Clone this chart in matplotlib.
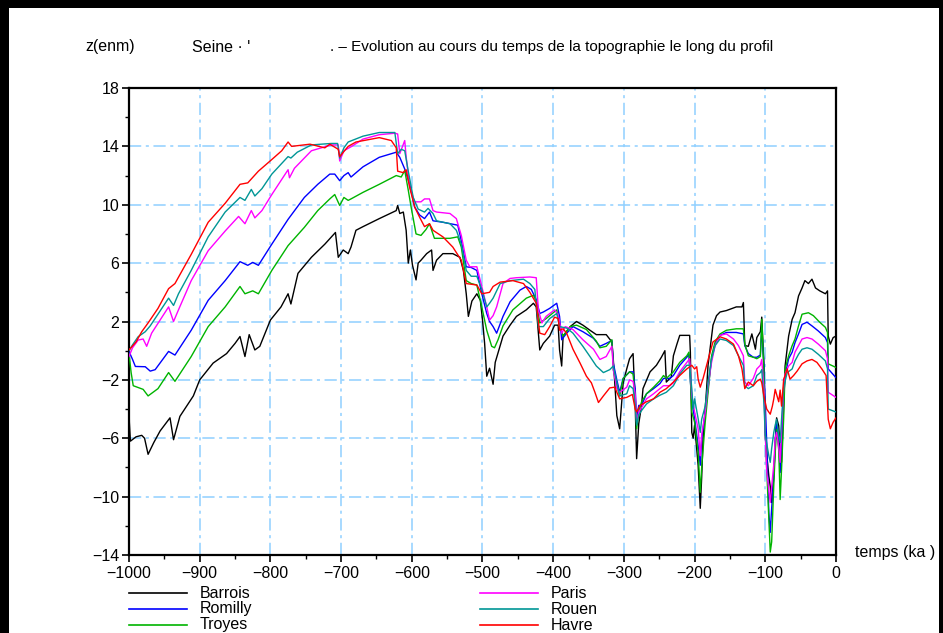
import matplotlib
matplotlib.use("Agg")
import matplotlib.pyplot as plt
from matplotlib.lines import Line2D
from matplotlib.patches import Rectangle
from matplotlib.ticker import MultipleLocator

plt.rcParams['font.family'] = ['Liberation Sans', 'DejaVu Sans']

# ---------------- data (time in ka, elevation z in m) ----------------
t_barrois = [-1000, -999.5, -998, -990, -982, -978, -973, -965, -956, -942, -937, -928, -909, -900, -881, -862,
             -850, -843, -836, -830, -822, -815, -800, -785, -775, -771, -761, -742, -723, -708, -704, -697,
             -690, -686, -679, -669, -646, -622, -620, -617, -612, -608, -605, -602, -599, -594, -591, -587,
             -579, -572, -570, -565, -556, -542, -532, -527, -523, -520, -515, -508, -503, -500, -497, -494,
             -490, -485, -482, -478, -471, -461, -452, -438, -428, -424, -419, -414, -405, -398, -393, -391,
             -388, -386, -376, -367, -358, -348, -339, -325, -317, -315, -310, -306, -301, -296, -292, -287,
             -284, -282, -279, -275, -273, -263, -254, -247, -242, -240, -233, -230, -225, -221, -207, -206,
             -204, -202, -200, -195, -192, -190, -188, -185, -183, -181, -174, -169, -164, -155, -141, -133,
             -131, -129, -124, -119, -114, -112, -107, -105, -102, -100, -98, -95, -93, -91, -88, -86,
             -84, -81, -79, -77, -74, -72, -67, -62, -58, -53, -48, -44, -39, -34, -29, -23,
             -15, -12, -11, -8, -4, 0]
z_barrois = [-3.0, -4.9, -6.2, -5.9, -5.8, -6.0, -7.1, -6.3, -5.5, -4.6, -6.1, -4.5, -3.1, -2.0, -0.85, -0.2,
             0.5, 0.97, -0.4, 1.1, 0.05, 0.3, 2.1, 3.0, 3.9, 3.2, 5.3, 6.4, 7.3, 8.1, 6.4, 6.9,
             6.65, 7.1, 8.25, 8.5, 9.05, 9.6, 9.95, 9.4, 9.5, 8.25, 6.0, 6.9, 5.85, 4.85, 6.0, 6.2,
             6.65, 6.9, 5.5, 6.2, 6.65, 6.65, 6.4, 5.5, 3.9, 2.35, 3.4, 3.9, 3.45, 2.1, 0.5, -1.75,
             -1.2, -2.3, -0.8, -0.15, 1.0, 1.75, 2.35, 2.8, 3.25, 3.0, 0.05, 0.5, 1.0, 1.75, 1.75, 0.05,
             -1.05, 1.0, 1.65, 2.0, 1.75, 1.4, 1.1, 1.1, 0.6, -0.6, -4.45, -5.35, -2.2, -1.25, -0.55, -0.2,
             -3.75, -7.4, -5.0, -3.75, -2.6, -1.45, -1.0, -0.45, 0.0, -2.15, -1.8, -0.35, 0.45, 1.05, 1.05, -0.1,
             -5.6, -6.0, -5.1, -7.85, -10.8, -8.7, -6.0, -4.0, -2.6, -1.0, 1.75, 2.4, 2.65, 2.75, 3.0, 3.0,
             3.3, 0.35, 0.3, 1.15, 0.1, 0.9, 1.3, 2.3, -0.9, -5.8, -7.1, -8.6, -9.3, -10.4, -8.6, -6.3,
             -4.6, -5.15, -7.0, -7.65, -3.8, -1.05, 1.0, 2.15, 2.6, 3.75, 4.3, 4.8, 4.6, 4.9, 4.3, 4.1,
             3.9, 4.1, 1.0, 0.45, 0.9, 1.0]

t_romilly = [-1000, -995, -991, -977, -970, -963, -944, -935, -912, -888, -864, -843, -832, -825, -817, -798,
             -775, -752, -733, -716, -709, -702, -696, -690, -686, -669, -646, -622, -617, -610, -603, -596,
             -589, -582, -575, -570, -556, -535, -530, -523, -516, -508, -501, -494, -490, -485, -480, -471,
             -461, -447, -438, -431, -424, -419, -414, -405, -395, -391, -388, -381, -372, -358, -343, -334,
             -325, -317, -315, -310, -306, -301, -292, -287, -284, -282, -279, -275, -268, -258, -249, -244,
             -235, -230, -221, -211, -208, -206, -203, -200, -195, -192, -190, -185, -181, -176, -171, -164,
             -155, -141, -131, -129, -124, -117, -112, -107, -105, -102, -98, -95, -93, -91, -88, -86,
             -84, -81, -79, -77, -74, -72, -67, -62, -58, -53, -48, -41, -34, -25, -15, -12,
             -11, 0]
z_romilly = [-0.05, -0.6, -1.08, -1.1, -1.4, -1.3, -0.05, -0.3, 1.4, 3.45, 4.8, 6.1, 5.85, 6.05, 5.85, 7.3,
             9.0, 10.5, 11.4, 12.1, 12.1, 11.65, 12.0, 12.2, 11.9, 12.6, 13.25, 13.6, 13.25, 12.45, 11.4, 9.85,
             9.3, 9.05, 9.5, 8.9, 8.8, 8.6, 7.55, 5.75, 5.7, 5.5, 3.9, 2.55, 2.0, 1.65, 1.2, 2.35,
             3.35, 4.15, 4.4, 4.2, 3.5, 2.55, 2.65, 2.9, 3.25, 2.35, 0.75, 1.2, 1.65, 1.3, 0.85, 0.3,
             0.5, 0.7, -0.85, -2.0, -2.85, -1.9, -1.45, -1.45, -2.6, -4.65, -3.75, -3.75, -2.95, -2.6, -2.25, -1.9,
             -1.9, -1.7, -1.0, -0.45, -0.25, -2.1, -3.75, -4.65, -6.5, -7.85, -6.0, -4.25, -2.6, -0.55, 0.45, 1.05,
             1.25, 1.25, 1.15, 0.35, -0.2, -0.45, -0.45, -0.3, 1.6, -1.0, -6.3, -11.1, -12.45, -10.8, -8.6, -6.3,
             -4.9, -6.3, -8.35, -6.7, -3.3, -1.7, -0.55, -0.1, 0.55, 1.15, 1.8, 1.95, 1.7, 1.35, 0.9, 0.55,
             -1.25, -1.85]

t_troyes = [-1000, -997, -994, -980, -973, -959, -944, -935, -912, -888, -864, -843, -836, -825, -817, -798,
            -775, -752, -733, -716, -709, -702, -696, -690, -686, -669, -646, -622, -615, -610, -605, -601,
            -594, -587, -580, -575, -568, -546, -535, -530, -523, -516, -508, -501, -494, -487, -483, -478,
            -471, -457, -438, -428, -424, -419, -410, -395, -391, -386, -376, -367, -353, -339, -334, -325,
            -317, -315, -310, -306, -301, -292, -287, -284, -282, -279, -275, -268, -258, -249, -244, -240,
            -230, -221, -211, -208, -206, -204, -200, -195, -192, -190, -185, -181, -176, -171, -164, -155,
            -141, -131, -129, -124, -117, -112, -107, -105, -102, -100, -98, -93, -91, -88, -86, -84,
            -81, -79, -77, -74, -72, -67, -62, -58, -53, -48, -39, -32, -23, -15, -12, -11,
            0]
z_troyes = [-0.2, -1.5, -2.4, -2.65, -3.1, -2.6, -1.5, -2.1, -0.4, 1.65, 3.0, 4.4, 3.9, 4.1, 3.9, 5.5,
            7.2, 8.45, 9.6, 10.4, 10.7, 9.95, 10.5, 10.3, 10.4, 10.85, 11.4, 12.0, 11.9, 12.35, 11.0, 9.85,
            8.0, 7.9, 8.3, 8.7, 7.7, 7.7, 7.8, 7.1, 4.8, 4.6, 4.5, 3.0, 1.4, 0.3, 0.2, 0.75,
            1.7, 2.8, 3.6, 3.8, 3.4, 1.9, 2.2, 2.8, 1.7, 1.0, 1.65, 1.75, 1.45, 0.65, 0.2, 0.3,
            0.75, -1.3, -2.4, -3.1, -1.9, -1.45, -1.6, -3.3, -5.35, -4.2, -3.5, -2.95, -2.5, -2.05, -1.7, -1.9,
            -1.45, -0.8, -0.35, -0.1, -1.9, -4.2, -4.9, -6.95, -9.7, -8.0, -4.9, -2.9, -0.35, 0.6, 1.15, 1.4,
            1.5, 1.5, 0.45, -0.35, -0.45, -0.55, -0.4, 2.15, -1.4, -5.6, -8.1, -13.8, -13.1, -9.2, -7.0, -5.4,
            -6.8, -10.2, -8.1, -4.6, -1.25, -0.35, 0.35, 0.8, 1.7, 2.5, 2.6, 2.4, 1.95, 1.6, 1.25, -0.9,
            -1.15]

t_paris = [-1000, -995, -987, -980, -975, -968, -944, -937, -930, -912, -888, -864, -845, -836, -827, -822,
           -812, -798, -775, -773, -766, -742, -714, -704, -702, -696, -685, -669, -646, -624, -620, -617,
           -610, -608, -603, -596, -587, -582, -575, -570, -565, -546, -537, -530, -523, -518, -508, -501,
           -494, -490, -485, -480, -471, -461, -452, -433, -424, -421, -416, -410, -398, -393, -388, -383,
           -372, -358, -343, -334, -325, -317, -315, -310, -306, -296, -292, -287, -284, -282, -279, -275,
           -268, -258, -249, -244, -235, -230, -221, -211, -207, -204, -200, -195, -192, -190, -185, -181,
           -176, -171, -164, -155, -145, -138, -131, -129, -124, -117, -112, -107, -105, -102, -100, -98,
           -93, -91, -88, -86, -84, -81, -79, -77, -74, -72, -67, -62, -58, -53, -48, -41,
           -34, -25, -15, -12, -11, 0]
z_paris = [-0.4, 0.2, 0.73, 0.8, 0.3, 1.2, 3.0, 2.0, 2.8, 4.8, 6.85, 8.2, 9.2, 8.7, 9.6, 9.1,
           9.6, 10.7, 12.4, 11.85, 12.5, 13.7, 14.1, 14.1, 13.0, 13.7, 14.0, 14.5, 14.8, 14.9, 14.85, 13.5,
           14.4, 13.3, 11.2, 10.2, 10.2, 10.4, 10.4, 9.6, 9.5, 9.4, 9.05, 7.9, 6.2, 5.75, 5.75, 4.4,
           3.0, 2.1, 2.4, 3.0, 4.6, 4.95, 5.0, 5.05, 5.0, 2.8, 1.9, 2.35, 2.8, 2.45, 1.2, 1.65,
           1.45, 0.75, 0.1, -0.6, -0.4, 0.3, -1.3, -2.6, -2.85, -2.5, -2.0, -2.1, -3.0, -4.9, -4.2, -3.9,
           -3.3, -2.95, -2.6, -2.4, -2.4, -2.2, -1.45, -0.8, -0.55, -3.05, -4.2, -5.35, -7.2, -5.8, -4.2, -2.4,
           -0.8, 0.35, 1.05, 1.15, 0.8, 0.35, -0.35, -2.15, -2.4, -1.9, -1.25, -1.0, -0.6, -2.6, -5.8, -8.3,
           -10.4, -9.3, -7.8, -6.0, -5.6, -6.6, -7.65, -5.4, -2.5, -1.6, -1.05, -0.8, -0.1, 0.35, 0.8, 0.9,
           0.8, 0.45, 0.0, -0.55, -2.85, -3.2]

t_rouen = [-1000, -995, -987, -977, -970, -944, -937, -930, -912, -888, -864, -843, -836, -827, -822, -812,
           -798, -775, -771, -762, -742, -714, -705, -702, -696, -690, -669, -646, -624, -620, -615, -610,
           -605, -598, -591, -582, -577, -570, -565, -546, -537, -530, -523, -516, -508, -501, -494, -490,
           -485, -475, -461, -442, -433, -426, -421, -414, -405, -395, -391, -381, -372, -358, -348, -339,
           -329, -320, -315, -310, -306, -296, -292, -287, -284, -282, -279, -275, -268, -258, -249, -240,
           -230, -221, -211, -207, -204, -202, -200, -195, -192, -190, -185, -181, -176, -171, -164, -155,
           -145, -138, -131, -129, -124, -117, -112, -107, -105, -102, -100, -95, -93, -91, -88, -86,
           -84, -81, -79, -77, -74, -69, -62, -58, -53, -48, -41, -34, -25, -15, -12, -11,
           0]
z_rouen = [0.0, 0.4, 0.96, 1.3, 1.7, 3.6, 3.1, 3.9, 5.5, 7.8, 9.5, 10.5, 10.3, 11.05, 10.6, 11.1,
           12.1, 13.3, 13.2, 13.6, 14.1, 14.2, 14.2, 13.2, 13.9, 14.3, 14.7, 14.95, 14.95, 13.5, 13.8, 13.7,
           12.3, 10.5, 9.7, 9.5, 9.75, 9.4, 8.9, 8.7, 8.25, 7.3, 5.5, 5.1, 5.1, 4.2, 3.0, 3.25,
           3.6, 4.6, 4.8, 4.9, 4.6, 4.2, 1.65, 1.65, 2.2, 2.55, 1.65, 1.55, 1.2, 0.3, -0.4, -1.05,
           -1.5, -1.3, -1.05, -2.2, -3.1, -2.95, -2.4, -2.6, -3.7, -5.1, -4.4, -4.1, -3.65, -3.3, -3.05, -2.85,
           -2.4, -1.6, -1.0, -1.0, -2.6, -4.0, -3.3, -4.65, -5.6, -4.7, -3.8, -2.2, -0.55, 0.35, 0.8, 0.7,
           0.35, -0.35, -1.0, -2.4, -2.6, -2.4, -1.7, -1.5, -1.3, -3.55, -5.8, -7.2, -7.65, -6.7, -5.6, -5.1,
           -4.7, -5.8, -6.3, -4.7, -2.5, -1.5, -1.25, -0.7, -0.25, 0.1, 0.2, 0.1, -0.25, -0.7, -1.25, -4.0,
           -4.2]

t_havre = [-1000, -990, -982, -973, -959, -944, -935, -912, -888, -864, -843, -832, -817, -798, -784, -775,
           -770, -744, -723, -716, -704, -702, -690, -679, -646, -629, -622, -620, -612, -608, -603, -596,
           -589, -582, -575, -570, -556, -542, -530, -523, -508, -501, -490, -485, -475, -457, -442, -433,
           -424, -419, -412, -405, -398, -393, -391, -386, -381, -372, -362, -353, -346, -341, -336, -329,
           -320, -313, -306, -296, -288, -284, -282, -277, -268, -258, -249, -240, -230, -221, -211, -204,
           -200, -197, -195, -192, -188, -183, -178, -174, -164, -155, -145, -138, -133, -129, -124, -117,
           -112, -107, -105, -102, -98, -93, -90, -88, -86, -84, -81, -79, -77, -74, -72, -69,
           -65, -60, -55, -48, -41, -34, -27, -20, -14, -11, -8, -4, 0]
z_havre = [0.05, 0.6, 1.3, 1.9, 2.9, 4.25, 4.6, 6.6, 8.8, 10.1, 11.4, 11.5, 12.3, 13.1, 13.7, 14.3,
           14.0, 14.15, 13.9, 14.15, 13.8, 13.3, 14.0, 14.3, 14.6, 14.4, 13.9, 12.3, 12.2, 12.4, 11.2, 9.85,
           9.15, 8.5, 8.7, 8.25, 7.8, 7.1, 6.2, 4.6, 4.5, 3.9, 4.0, 4.4, 4.7, 4.8, 4.6, 4.0,
           3.25, 1.2, 1.1, 1.65, 2.3, 2.2, 1.4, 1.5, 1.2, 0.1, -0.85, -1.75, -2.2, -2.85, -3.55, -3.1,
           -2.55, -2.5, -3.3, -3.2, -3.0, -4.0, -4.2, -3.75, -3.5, -3.3, -2.85, -2.6, -2.15, -1.7, -1.25, -1.0,
           -1.25, -1.1, -1.95, -2.5, -1.9, -1.0, -0.1, 0.6, 0.95, 0.8, 0.45, -0.35, -1.25, -2.6, -2.15, -2.4,
           -2.1, -1.95, -2.2, -3.1, -4.0, -4.35, -3.8, -3.3, -2.65, -3.0, -3.5, -2.7, -3.8, -1.95, -1.7, -1.25,
           -1.95, -1.7, -1.4, -0.9, -0.7, -0.6, -0.8, -1.25, -1.7, -4.7, -5.35, -4.9, -4.6]

series_names = ["Barrois", "Romilly", "Troyes", "Paris", "Rouen", "Havre"]
series_t = [t_barrois, t_romilly, t_troyes, t_paris, t_rouen, t_havre]
series_z = [z_barrois, z_romilly, z_troyes, z_paris, z_rouen, z_havre]
series_colors = ["#000000", "#0000ff", "#00b400", "#ff00ff", "#009696", "#ff0000"]

x_ticks = list(range(-1000, 1, 100))
y_ticks = [18, 14, 10, 6, 2, -2, -6, -10, -14]

title_left = "z(enm)"
title_mid = "Seine \u00b7 '"
title_right = ". \u2013 Evolution au cours du temps de la topographie le long du profil"
xlabel = "temps (ka )"

# ---------------- figure ----------------
W, H = 943, 633
fig = plt.figure(figsize=(W / 100, H / 100), dpi=100)
ax = fig.add_axes([129 / W, 1 - 555 / H, 707 / W, 467 / H])

grid_color = "#8fd0ff"
for name, t, z, c in zip(series_names, series_t, series_z, series_colors):
    ax.plot(t, z, color=c, lw=1.0, zorder=3)

ax.set_xlim(-1000, 0)
ax.set_ylim(-14, 18)
ax.set_xticks(x_ticks)
ax.set_yticks(y_ticks)
ax.xaxis.set_minor_locator(MultipleLocator(50))
ax.yaxis.set_minor_locator(MultipleLocator(2))
ax.tick_params(axis="both", which="major", direction="out", length=5, width=1.2, labelsize=11.5,
               colors="black", top=False, right=False)
ax.tick_params(axis="both", which="minor", direction="out", length=3, width=1.0, top=False, right=False)
ax.tick_params(axis="x", pad=3)
ax.tick_params(axis="y", pad=2)
for s in ax.spines.values():
    s.set_linewidth(1.6)
ax.grid(True, which="major", color=grid_color, linestyle=(0, (8, 3, 2, 3)), linewidth=1.1, zorder=1)

# titles
fs = 11.5
fig.text(85 / W, 1 - 47 / H, title_left, fontsize=fs, ha="left", va="center")
fig.text(192 / W, 1 - 47 / H, title_mid, fontsize=fs, ha="left", va="center")
fig.text(330 / W, 1 - 47 / H, title_right, fontsize=11, ha="left", va="center")
fig.text(855 / W, 1 - 553 / H, xlabel, fontsize=fs, ha="left", va="center")

# legend
legend_rows = [593, 609, 625]
for i, (name, c) in enumerate(zip(series_names, series_colors)):
    col = i // 3
    row = i % 3
    x0 = 129 if col == 0 else 480
    y = 1 - legend_rows[row] / H
    fig.add_artist(Line2D([x0 / W, (x0 + 58) / W], [y, y], color=c, lw=1.2, transform=fig.transFigure))
    fig.text((x0 + 71) / W, y, name, fontsize=fs, ha="left", va="center")

# frame around the figure
fig.add_artist(Rectangle((0, 1 - 8 / H), 1, 8 / H, transform=fig.transFigure, color="black", lw=0))
fig.add_artist(Rectangle((0, 0), 9 / W, 1, transform=fig.transFigure, color="black", lw=0))
fig.add_artist(Rectangle((1 - 4 / W, 0), 4 / W, 1, transform=fig.transFigure, color="black", lw=0))

fig.savefig("out.png", dpi=100)
